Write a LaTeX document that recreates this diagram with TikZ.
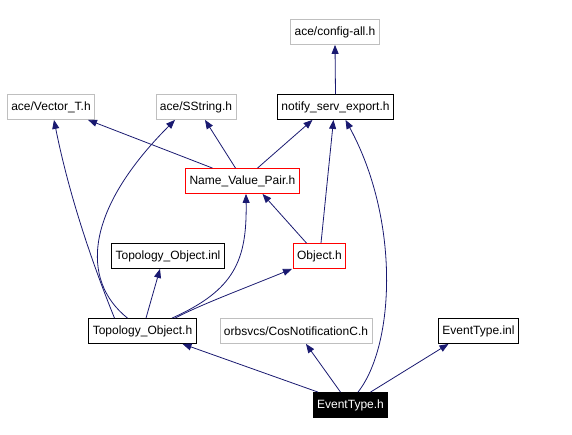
\documentclass[tikz,border=0pt]{standalone}
\usepackage{fontspec}
\setmainfont{Liberation Sans}
\usetikzlibrary{arrows.meta}
\definecolor{edgeblue}{HTML}{191970}
\definecolor{extgray}{HTML}{BFBFBF}
\tikzset{
  hfile/.style={draw=black, line width=0.8pt, inner xsep=4pt, inner ysep=0pt, minimum height=25pt, font=\fontsize{12}{14}\selectfont},
  extfile/.style={hfile, draw=extgray},
  redfile/.style={hfile, draw=red},
  curfile/.style={hfile, fill=black, text=white},
  incl/.style={draw=edgeblue, line width=0.8pt, -{Triangle[length=9pt,width=7pt]}}
}
\begin{document}
\begin{tikzpicture}[x=1pt,y=-1pt]
  \useasboundingbox (0,0) rectangle (572,435);
  \node[extfile] (cfg) at (335,32) {ace/config-all.h};
  \node[extfile] (vec) at (51,107) {ace/Vector\_T.h};
  \node[extfile] (sstr) at (196,107) {ace/SString.h};
  \node[hfile] (ntf) at (335.5,107) {notify\_serv\_export.h};
  \node[redfile] (nvp) at (242.5,181) {Name\_Value\_Pair.h};
  \node[hfile] (tinl) at (168,256) {Topology\_Object.inl};
  \node[redfile] (obj) at (319.5,256) {Object.h};
  \node[hfile] (topo) at (142.5,331) {Topology\_Object.h};
  \node[extfile] (cos) at (296,331) {orbsvcs/CosNotificationC.h};
  \node[hfile] (einl) at (478.5,331) {EventType.inl};
  \node[curfile] (ev) at (350.5,405) {EventType.h};

  \draw[incl] (ntf.north) -- (cfg.south);
  \draw[incl] ([xshift=-30pt]nvp.north) -- ([xshift=37pt]vec.south);
  \draw[incl] ([xshift=-7pt]nvp.north) -- ([xshift=9pt]sstr.south);
  \draw[incl] ([xshift=15pt]nvp.north) -- ([xshift=-23pt]ntf.south);
  \draw[incl] ([xshift=-13pt]obj.north) -- ([xshift=20pt]nvp.south);
  \draw[incl] ([xshift=1.5pt]obj.north) -- ([xshift=-2pt]ntf.south);
  \draw[incl] ([xshift=-28pt]topo.north) .. controls (95,270) and (70,200) .. ([xshift=3pt]vec.south);
  \draw[incl] ([xshift=-15pt]topo.north) .. controls (80,280) and (85,210) .. ([xshift=-21pt]sstr.south);
  \draw[incl] ([xshift=3.5pt]topo.north) -- ([xshift=-8pt]tinl.south);
  \draw[incl] ([xshift=29.5pt]topo.north) .. controls (235,290) and (247,260) .. ([xshift=3.5pt]nvp.south);
  \draw[incl] ([xshift=32.5pt]topo.north) .. controls (200,305) and (240,290) .. ([xshift=-27.5pt]obj.south);
  \draw[incl] ([xshift=-32.5pt]ev.north) -- ([xshift=40pt]topo.south);
  \draw[incl] ([xshift=-10pt]ev.north) -- ([xshift=10pt]cos.south);
  \draw[incl] ([xshift=20pt]ev.north) -- ([xshift=-30pt]einl.south);
  \draw[incl] ([xshift=7.5pt]ev.north) .. controls (395,345) and (400,220) .. ([xshift=10pt]ntf.south);
\end{tikzpicture}
\end{document}
